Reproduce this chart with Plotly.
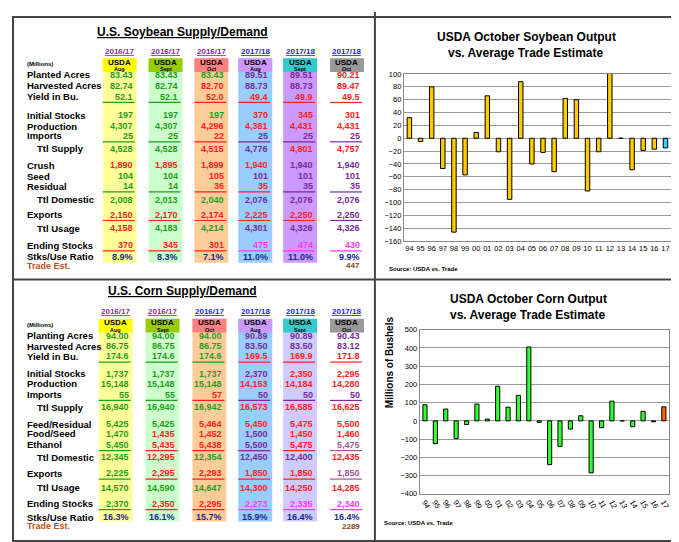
import plotly.graph_objects as go

W, H = 679, 542
FONT = "Liberation Sans"

# ---------------- data ----------------
years = ["94","95","96","97","98","99","00","01","02","03","04","05","06","07","08","09","10","11","12","13","14","15","16","17"]
soy_diff = [32,-5,80,-47,-146,-57,9,66,-21,-95,88,-40,-22,-52,62,60,-82,-21,102,0,-49,-19,-17,-15]
corn_diff = [88,-125,65,-97,-20,92,10,190,75,140,405,-8,-240,-140,-45,28,-285,-37,108,0,-32,52,-5,77]

col_years_soy = ["2016/17","2016/17","2016/17","2017/18","2017/18","2017/18"]
col_years_corn = ["2016/17","2016/17","2016/17","2017/18","2017/18","2017/18"]
col_months = ["Aug","Sept","Oct","Aug","Sept","Oct"]

soy_labels = ["Planted Acres","Harvested Acres","Yield in Bu.","Initial Stocks","Production","Imports",
              "Ttl Supply","Crush","Seed","Residual","Ttl Domestic","Exports","Ttl Usage","Ending Stocks","Stks/Use Ratio"]
soy_vals = [
    ["83.43","83.43","83.43","89.51","89.51","90.21"],
    ["82.74","82.74","82.70","88.73","88.73","89.47"],
    ["52.1","52.1","52.0","49.4","49.9","49.5"],
    ["197","197","197","370","345","301"],
    ["4,307","4,307","4,296","4,381","4,431","4,431"],
    ["25","25","22","25","25","25"],
    ["4,528","4,528","4,515","4,776","4,801","4,757"],
    ["1,890","1,895","1,899","1,940","1,940","1,940"],
    ["104","104","105","101","101","101"],
    ["14","14","36","35","35","35"],
    ["2,008","2,013","2,040","2,076","2,076","2,076"],
    ["2,150","2,170","2,174","2,225","2,250","2,250"],
    ["4,158","4,183","4,214","4,301","4,326","4,326"],
    ["370","345","301","475","474","430"],
    ["8.9%","8.3%","7.1%","11.0%","11.0%","9.9%"],
]
soy_trade = "447"
corn_labels = ["Planting Acres","Harvested Acres","Yield in Bu.","Initial Stocks","Production","Imports",
               "Ttl Supply","Feed/Residual","Food/Seed","Ethanol","Ttl Domestic","Exports","Ttl Usage","Ending Stocks","Stks/Use Ratio"]
corn_vals = [
    ["94.00","94.00","94.00","90.89","90.89","90.43"],
    ["86.75","86.75","86.75","83.50","83.50","83.12"],
    ["174.6","174.6","174.6","169.5","169.9","171.8"],
    ["1,737","1,737","1,737","2,370","2,350","2,295"],
    ["15,148","15,148","15,148","14,153","14,184","14,280"],
    ["55","55","57","50","50","50"],
    ["16,940","16,940","16,942","16,573","16,585","16,625"],
    ["5,425","5,425","5,464","5,450","5,475","5,500"],
    ["1,470","1,435","1,452","1,500","1,450","1,460"],
    ["5,450","5,435","5,438","5,500","5,475","5,475"],
    ["12,345","12,295","12,354","12,450","12,400","12,435"],
    ["2,225","2,295","2,293","1,850","1,850","1,850"],
    ["14,570","14,590","14,647","14,300","14,250","14,285"],
    ["2,370","2,350","2,295","2,273","2,335","2,340"],
    ["16.3%","16.1%","15.7%","15.9%","16.4%","16.4%"],
]
corn_trade = "2289"

# ---------------- style ----------------
C = {"g": "#1e9e1e", "r": "#ff2020", "p": "#7a2a9a", "m": "#ff33ff", "n": "#1c2a8c", "v": "#a0569a"}
soy_colors = ["gggppr","ggrppr","ggrrrr","gggrrr","ggrrrr","ggrppp","ggrprr","rrrrpp","ggrppp","ggrrpp",
              "gggppp","rrrrrp","rggppp","rrrmmm","nnnnnn"]
corn_colors = ["gggppp","gggppp","gggrrr","gggprr","gggrrr","ggrppp","gggrrr","ggrrrr","grrprr","grrprv",
               "grgppr","grrrrv","gggrrr","grrmmm","nnnnnn"]
soy_ul = {2: "ggrrrr", 5: "ggrppp", 9: "ggrrpp", 11: "rrrrrp", 13: "rrrmmm"}
corn_ul = {2: "gggrrr", 5: "ggrppp", 9: "grrprv", 11: "grrrrv", 13: "grrmmm"}
band_soy = ["#ffff99", "#ccffcc", "#ffcc99", "#99ccff", "#cc99ff", None]
band_corn = ["#ffff99", "#ccffcc", "#ffcc99", "#99ccff", "#ccccff", None]
hdr_fill = ["#ffff00", "#99cc00", "#ff8080", "#cc99ff", "#33cccc", "#999999"]
indent = {"Ttl Supply", "Ttl Domestic", "Ttl Usage"}

fig = go.Figure()
ann, shp = [], []
px = lambda x: x / W
py = lambda y: 1 - y / H

def text(x, y, t, size=9, color="black", xa="left", bold=True):
    ann.append(dict(x=px(x), y=py(y), xref="paper", yref="paper", text=(f"<b>{t}</b>" if bold else t),
                    showarrow=False, xanchor=xa, yanchor="middle",
                    font=dict(family=FONT, size=size, color=color)))

def rect(x0, y0, x1, y1, fill=None, line=None, lw=1):
    shp.append(dict(type="rect", xref="paper", yref="paper", x0=px(x0), x1=px(x1), y0=py(y1), y1=py(y0),
                    fillcolor=fill or "rgba(0,0,0,0)", line=dict(color=line or "rgba(0,0,0,0)", width=lw), layer="below"))

def hline(x0, x1, y, color, w=1):
    shp.append(dict(type="line", xref="paper", yref="paper", x0=px(x0), x1=px(x1), y0=py(y), y1=py(y),
                    line=dict(color=color, width=w)))

def table(title, ty, yrs, labels, vals, colors, ul, bands, trade, centers, rows_y, band_bot, yrcol):
    text(175, ty, f"<u>{title}</u>", 12, "black", "center")
    hy = rows_y[0] - 17
    text(17, hy + 6, "(Millions)", 6)
    for j, cx in enumerate(centers):
        if bands[j]:
            rect(cx - 17, hy, cx + 17, band_bot, bands[j])
        rect(cx - 17, hy, cx + 17, hy + 14, hdr_fill[j])
        text(cx, hy - 7, f"<u>{yrs[j]}</u>", 8, yrcol[j], "center")
        text(cx, hy + 4, "USDA", 8, "black", "center")
        text(cx, hy + 11, col_months[j], 5.5, "black", "center")
    for i, lab in enumerate(labels):
        y = rows_y[i]
        text(27 if lab in indent else 17, y, lab, 9.5, "black")
        for j, cx in enumerate(centers):
            text(cx + 15, y, vals[i][j], 9, C[colors[i][j]], "right")
        if i in ul:
            for j, cx in enumerate(centers):
                hline(cx - 17, cx + 15, y + 6, C[ul[i][j]], 1.2)
    text(17, rows_y[-1] + 9, "Trade Est.", 9, "#b8501e")
    text(centers[-1] + 15, rows_y[-1] + 9, trade, 8, "#8b4513", "right")

soy_y = [64, 75, 86, 105, 116, 126, 139, 156, 167, 177, 191, 206, 220, 237, 249]
corn_y = [329, 340, 350, 368, 378, 389, 402, 419, 429, 440, 453, 469, 484, 500, 514]
table("U.S. Soybean Supply/Demand", 20, col_years_soy, soy_labels, soy_vals, soy_colors, soy_ul, band_soy,
      soy_trade, [112, 158, 204, 248, 293, 340], soy_y, 255, ["#8b2a9a"] * 3 + ["#2222ee"] * 3)
table("U.S. Corn Supply/Demand", 284, col_years_corn, corn_labels, corn_vals, corn_colors, corn_ul, band_corn,
      corn_trade, [108, 155, 202, 248, 293, 340], corn_y, 518, ["#8b2a9a"] * 2 + ["#2222ee"] * 4)

# frames
rect(5, 5, 676, 538, None, "#444444", 2)
shp.append(dict(type="line", xref="paper", yref="paper", x0=px(368), x1=px(368), y0=0, y1=1, line=dict(color="#444", width=2)))
shp.append(dict(type="line", xref="paper", yref="paper", x0=px(5), x1=px(676), y0=py(272), y1=py(272), line=dict(color="#444", width=2)))

# charts
fig.add_trace(go.Bar(x=years, y=soy_diff, xaxis="x", yaxis="y", width=0.4,
                     marker=dict(color=["#ffcc00"] * 23 + ["#33ccff"], line=dict(color="black", width=1))))
fig.add_trace(go.Bar(x=years, y=corn_diff, xaxis="x2", yaxis="y2", width=0.4,
                     marker=dict(color=["#33ff33"] * 23 + ["#ff6600"], line=dict(color="black", width=1))))
text(520, 25, "USDA October Soybean Output", 12, "black", "center")
text(520, 42, "vs. Average Trade Estimate", 12, "black", "center")
text(380, 261, "Source: USDA vs. Trade", 6)
text(522, 292, "USDA October Corn Output", 12, "black", "center")
text(522, 308, "vs. Average Trade Estimate", 12, "black", "center")
text(375, 520, "Source: USDA vs. Trade", 6)
ann.append(dict(x=px(382), y=py(405), xref="paper", yref="paper", text="<b>Millions of Bushels</b>", textangle=-90,
                showarrow=False, font=dict(family=FONT, size=10, color="black")))

ax = dict(showline=True, linecolor="#888", mirror=True, zeroline=False, ticks="")
fig.update_layout(
    width=W, height=H, margin=dict(l=0, r=0, t=0, b=0), showlegend=False,
    paper_bgcolor="white", plot_bgcolor="white", bargap=0.5,
    xaxis=dict(domain=[px(397), px(665)], anchor="y", type="category", showgrid=False, **ax),
    yaxis=dict(domain=[py(233), py(63)], anchor="x", range=[-160, 100], dtick=20, gridcolor="#999", **ax),
    xaxis2=dict(domain=[px(413), px(663)], anchor="y2", type="category", showgrid=False, tickangle=60, **ax),
    yaxis2=dict(domain=[py(490), py(323)], anchor="x2", range=[-400, 500], dtick=100, gridcolor="#999", **ax),
    annotations=ann, shapes=shp,
)
fig.update_xaxes(tickfont=dict(family=FONT, size=7.5, color="black"))
fig.update_yaxes(tickfont=dict(family=FONT, size=7.5, color="black"))
fig.write_html("out.html")
